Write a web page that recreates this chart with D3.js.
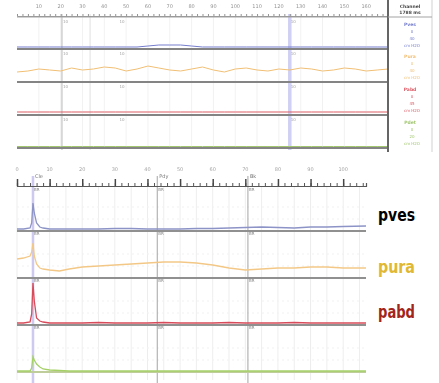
<!DOCTYPE html>
<html>
<head>
<meta charset="utf-8">
<script src="https://cdn.jsdelivr.net/npm/d3@7/dist/d3.min.js"></script>
<style>
  body { margin: 0; background: #fff; }
  svg { display: block; }
</style>
</head>
<body>
<div id="chart"></div>
<script>
// ---- overview strip (top), minutes ----
const topTime = [0,0.5,1,1.5,2,2.5,3,3.5,4,4.5,5,5.5,6,6.5,7,7.5,8,8.5,9,9.5,10,10.5,11,11.5,12,12.5,13,13.5,14,14.5,15,15.5,16,16.5,17];
const topPves = [1,1,1,1,1,1,1,1,1,1,1,1,2,3,3,3,2,1,1,1,1,1,1,1,1,1,1,1,1,1,1,1,1,1,1];
const topPura = [8,9,11,10,9,12,10,11,13,12,9,11,14,12,10,9,11,13,10,8,11,12,10,9,11,10,12,11,9,10,12,11,9,10,11];
const topPabd = [1,1,1,1,1,1,1,1,1,1,1,1,1,1,1,1,1,1,1,1,1,1,1,1,1,1,1,1,1,1,1,1,1,1,1];
const topPdet = [0.5,0.5,0.5,0.5,0.5,0.5,0.5,0.5,0.5,0.5,0.5,0.5,0.5,0.5,0.5,0.5,0.5,0.5,0.5,0.5,0.5,0.5,0.5,0.5,0.5,0.5,0.5,0.5,0.5,0.5,0.5,0.5,0.5,0.5,0.5];
const topTicks = [1,2,3,4,5,6,7,8,9,10,11,12,13,14,15,16];
const topTickLabels = ['10','20','30','40','50','60','70','80','90','100','110','120','130','140','150','160'];
const topMarks = [2.06, 3.35, 12.5];
const legendNames = ['Pves', 'Pura', 'Pabd', 'Pdet'];
const legendLines = [['0', '40', 'cm H2O'], ['0', '40', 'cm H2O'], ['0', '45', 'cm H2O'], ['0', '20', 'cm H2O']];

// ---- detail strip (bottom), seconds ----
const detTime = [0,2,4,4.5,4.9,5.3,6,7,8,10,13,16,20,25,30,35,40,45,50,55,60,65,70,75,80,85,90,95,100,107];
const pves = [2,2,3,8,28,18,8,4,3,2,2,2,2,2,2.5,2.5,2,2,2,2.5,2.5,3,3.5,4,3.5,3,4,4,4.5,5];
const pura = [19,20,22,26,35,22,14,10,9,8,7,9,11,12,13,14,15,16,16,15,13,10,8,9,10,10,11,11,10,10];
const pabd = [3,3,4,12,43,25,8,5,4,3,3,3,3,3.5,3,3,3,3.5,3,3,3,3.5,3,3,3,3.5,3,3,3,3];
const pdet = [2,2,2,5,16,13,9,6,4,3,2.5,2,2,2,2,2,2,2,2,2,2,2,2,2,2,2,2,2,2,2];
const detTicks = [0,10,20,30,40,50,60,70,80,90,100];
const detTickLabels = ['0','10','20','30','40','50','60','70','80','90','100'];
const eventNames = ['Cle', 'Pdy', 'Bk'];
const eventTimes = [4.9, 43, 70.8];
const channelNames = ['pves', 'pura', 'pabd'];

const width = 439, height = 383;
const root = d3.select('#chart').append('svg')
  .attr('width', width).attr('height', height)
  .style('font-family', 'DejaVu Sans, sans-serif');

// the source is a soft, scanned-looking trace printout
root.append('defs').append('filter').attr('id', 'soft')
  .append('feGaussianBlur').attr('stdDeviation', 0.35);
const svg = root.append('g').attr('filter', 'url(#soft)').attr('opacity', 0.9);

// ================= TOP =================
const xTop = d3.scaleLinear().domain([0, 17]).range([17, 388]);
const topRows = [
  { vals: topPves, color: '#6670c8', y: d3.scaleLinear().domain([0, 30]).range([48, 18]) },
  { vals: topPura, color: '#efb865', y: d3.scaleLinear().domain([0, 30]).range([80, 50]) },
  { vals: topPabd, color: '#d84a55', y: d3.scaleLinear().domain([0, 30]).range([113, 83]) },
  { vals: topPdet, color: '#98c060', y: d3.scaleLinear().domain([0, 30]).range([147, 117]) }
];
const topSeps = [17, 49, 82, 115, 148];

// faint grid
svg.append('g').selectAll('line').data(topTicks).join('line')
  .attr('x1', d => xTop(d)).attr('x2', d => xTop(d))
  .attr('y1', 17).attr('y2', 148)
  .attr('stroke', '#f0f0f0').attr('stroke-width', 1);

// event marks
svg.append('g').selectAll('line').data(topMarks).join('line')
  .attr('x1', d => xTop(d)).attr('x2', d => xTop(d))
  .attr('y1', 14).attr('y2', 150)
  .attr('stroke', (d, i) => i === 2 ? '#cacbf2' : (i === 0 ? '#b0b0b0' : '#dddddd'))
  .attr('stroke-width', (d, i) => i === 2 ? 3.5 : 1);

// axis
const topAxis = d3.axisTop(xTop).tickValues(d3.range(0, 17.01, 0.25)).tickSize(2).tickFormat('');
const ta = svg.append('g').attr('transform', 'translate(0,16)').call(topAxis);
ta.selectAll('path, line').attr('stroke', '#888');
svg.append('g').selectAll('text').data(topTicks).join('text')
  .attr('x', d => xTop(d)).attr('y', 8)
  .attr('text-anchor', 'middle').attr('font-size', 5).attr('fill', '#888')
  .text((d, i) => topTickLabels[i]);

// separators
svg.append('g').selectAll('line').data(topSeps).join('line')
  .attr('x1', 17).attr('x2', 388)
  .attr('y1', d => d).attr('y2', d => d)
  .attr('stroke', (d, i) => i === 0 ? '#999' : '#777')
  .attr('stroke-width', (d, i) => i === 0 ? 1 : 2);

// traces
topRows.forEach(r => {
  svg.append('path')
    .datum(r.vals)
    .attr('fill', 'none')
    .attr('stroke', r.color)
    .attr('stroke-width', 1)
    .attr('d', d3.line().x((d, i) => xTop(topTime[i])).y(d => r.y(d)));
});

// small mark labels on separators
topSeps.slice(0, 4).forEach(s => {
  [topMarks[0], topMarks[1] + 1.3, topMarks[2]].forEach(t => {
    svg.append('text').attr('x', xTop(t) + 1).attr('y', s + 6)
      .attr('font-size', 4).attr('fill', '#999').text('10');
  });
});

// legend column
svg.append('line').attr('x1', 388).attr('x2', 388).attr('y1', 0).attr('y2', 152)
  .attr('stroke', '#555').attr('stroke-width', 2);
svg.append('line').attr('x1', 432).attr('x2', 432).attr('y1', 0).attr('y2', 152)
  .attr('stroke', '#ccc').attr('stroke-width', 1);
svg.append('line').attr('x1', 388).attr('x2', 432).attr('y1', 17).attr('y2', 17)
  .attr('stroke', '#999').attr('stroke-width', 1);
svg.append('text').attr('x', 410).attr('y', 8).attr('text-anchor', 'middle')
  .attr('font-size', 4.5).attr('font-weight', 'bold').attr('fill', '#333').text('Channel');
svg.append('text').attr('x', 410).attr('y', 14).attr('text-anchor', 'middle')
  .attr('font-size', 4.5).attr('font-weight', 'bold').attr('fill', '#333').text('1788 ms');
topRows.forEach((r, i) => {
  const top = topSeps[i];
  svg.append('text').attr('x', 410).attr('y', top + 9).attr('text-anchor', 'middle')
    .attr('font-size', 4.5).attr('font-weight', 'bold').attr('fill', r.color).text(legendNames[i]);
  legendLines[i].forEach((t, j) => {
    svg.append('text').attr('x', 412).attr('y', top + 16 + j * 7).attr('text-anchor', 'middle')
      .attr('font-size', 4).attr('fill', r.color).text(t);
  });
});

// ================= BOTTOM =================
const xDet = d3.scaleLinear().domain([0, 107]).range([17, 366]);
const detRows = [
  { vals: pves, color: '#8088c0', base: 231, y: d3.scaleLinear().domain([0, 40]).range([231, 191]) },
  { vals: pura, color: '#f2c27a', base: 278, y: d3.scaleLinear().domain([0, 40]).range([278, 238]) },
  { vals: pabd, color: '#d43848', base: 325, y: d3.scaleLinear().domain([0, 45]).range([326, 281]) },
  { vals: pdet, color: '#9ccc58', base: 372, y: d3.scaleLinear().domain([0, 20]).range([373, 353]) }
];

// faint grid
svg.append('g').selectAll('line').data(d3.range(0, 107, 5)).join('line')
  .attr('x1', d => xDet(d)).attr('x2', d => xDet(d))
  .attr('y1', 187).attr('y2', 380)
  .attr('stroke', '#ececec').attr('stroke-width', 1);
detRows.forEach(r => {
  [r.base - 12, r.base - 24].forEach(yy => {
    svg.append('line').attr('x1', 17).attr('x2', 366).attr('y1', yy).attr('y2', yy)
      .attr('stroke', '#f0f0f0').attr('stroke-dasharray', '2,3');
  });
});

// event lines
svg.append('g').selectAll('line').data(eventTimes).join('line')
  .attr('x1', d => xDet(d)).attr('x2', d => xDet(d))
  .attr('y1', 176).attr('y2', 383)
  .attr('stroke', (d, i) => i === 0 ? '#c8c4ee' : '#9a9a9a')
  .attr('stroke-width', (d, i) => i === 0 ? 2.5 : 1);
svg.append('g').selectAll('text').data(eventTimes).join('text')
  .attr('x', d => xDet(d) + 2).attr('y', 178)
  .attr('font-size', 5).attr('fill', '#666')
  .text((d, i) => eventNames[i]);

// axis with ticks
const minorAxis = d3.axisTop(xDet).tickValues(d3.range(0, 107, 2)).tickSize(3).tickFormat('');
const ma = svg.append('g').attr('transform', 'translate(0,186)').call(minorAxis);
ma.select('path').attr('stroke', '#444').attr('stroke-width', 1.2);
ma.selectAll('line').attr('stroke', '#444');
const majorAxis = d3.axisTop(xDet).tickValues(detTicks).tickSize(7).tickFormat('');
const mj = svg.append('g').attr('transform', 'translate(0,186)').call(majorAxis);
mj.select('path').remove();
mj.selectAll('line').attr('stroke', '#333').attr('stroke-width', 1.5);
svg.append('g').selectAll('text').data(detTicks).join('text')
  .attr('x', d => xDet(d)).attr('y', 171)
  .attr('text-anchor', 'middle').attr('font-size', 5).attr('fill', '#999')
  .text((d, i) => detTickLabels[i]);

// baselines and traces
detRows.forEach((r, i) => {
  svg.append('line').attr('x1', 17).attr('x2', 366)
    .attr('y1', r.base).attr('y2', r.base)
    .attr('stroke', i === 3 ? '#b8c890' : '#858585').attr('stroke-width', 2);
  svg.append('path')
    .datum(r.vals)
    .attr('fill', 'none')
    .attr('stroke', r.color)
    .attr('stroke-width', 1.3)
    .attr('d', d3.line().x((d, j) => xDet(detTime[j])).y(d => r.y(d)));
  // row labels at event lines
  eventTimes.forEach(t => {
    svg.append('text').attr('x', xDet(t) + 1).attr('y', r.base - (i === 0 ? 40 : 43))
      .attr('font-size', 4).attr('fill', '#777').text('BR');
  });
});

// channel names
const labelColors = ['#000000', '#e0b832', '#a3241a'];
const labelY = [221, 273, 318];
root.append('g').selectAll('text').data(channelNames).join('text')
  .attr('x', 378).attr('y', (d, i) => labelY[i])
  .attr('font-size', 18).attr('font-weight', 'bold')
  .attr('fill', (d, i) => labelColors[i])
  .attr('textLength', 37).attr('lengthAdjust', 'spacingAndGlyphs')
  .text(d => d);
</script>
</body>
</html>
